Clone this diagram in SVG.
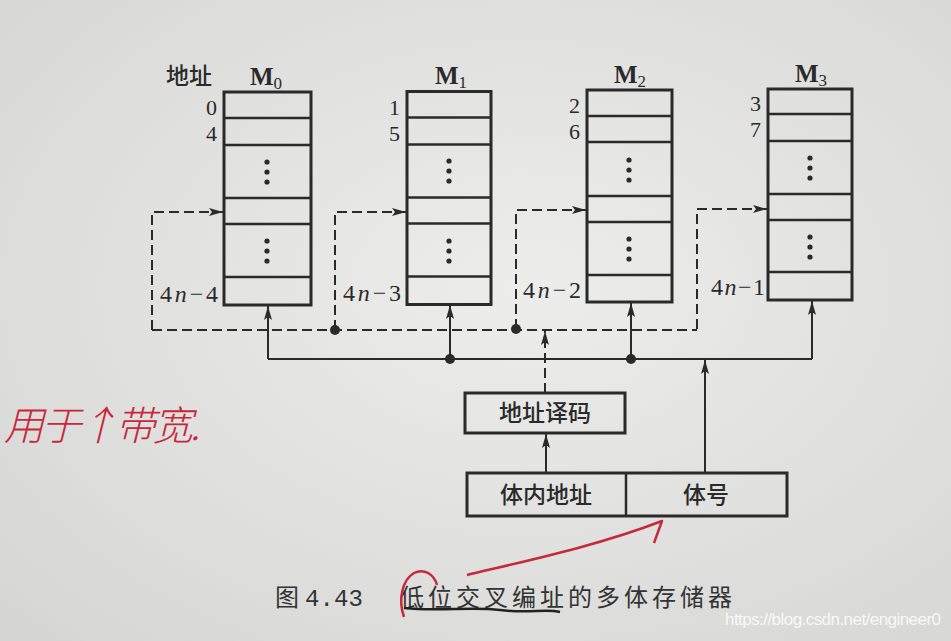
<svg xmlns="http://www.w3.org/2000/svg" width="951" height="641" viewBox="0 0 951 641">
<defs>
<radialGradient id="bg" cx="0.55" cy="0.45" r="0.75">
<stop offset="0" stop-color="#ededeb"/>
<stop offset="1" stop-color="#d6d6d4"/>
</radialGradient>
<marker id="ah" viewBox="0 0 14 8" refX="14" refY="4" markerWidth="14" markerHeight="8" markerUnits="userSpaceOnUse" orient="auto">
<path d="M0,0 L14,4 L0,8 L3,4 Z" fill="#2a2a2a"/>
</marker>
<g id="dots3">
<circle cx="0" cy="0" r="2.6"/>
<circle cx="0" cy="10" r="2.6"/>
<circle cx="0" cy="20" r="2.6"/>
</g>
</defs>
<style>
.box{fill:none;stroke:#2a2a2a;stroke-width:3}
.row{stroke:#2a2a2a;stroke-width:2.5}
.dash{fill:none;stroke:#2a2a2a;stroke-width:2;stroke-dasharray:10 5}
.sol{fill:none;stroke:#2a2a2a;stroke-width:2}
.num{font-family:"Liberation Serif","DejaVu Serif",serif;font-size:22px;fill:#2a2a2a;text-anchor:end}
.big{font-size:24px}
.ml{font-family:"Liberation Serif",serif;font-size:25px;font-weight:bold;fill:#2a2a2a;text-anchor:middle}
.cn{font-family:"Noto Sans CJK SC","Noto Sans",sans-serif;font-size:23px;font-weight:500;fill:#2a2a2a;text-anchor:middle}
.dot{fill:#2a2a2a}
</style>
<rect x="0" y="0" width="951" height="641" fill="url(#bg)"/>

<g id="M0">
<rect class="box" x="224" y="92" width="87" height="213"/>
<line class="row" x1="224" y1="118" x2="311" y2="118"/>
<line class="row" x1="224" y1="145" x2="311" y2="145"/>
<line class="row" x1="224" y1="198" x2="311" y2="198"/>
<line class="row" x1="224" y1="224" x2="311" y2="224"/>
<line class="row" x1="224" y1="277" x2="311" y2="277"/>
<use href="#dots3" x="267" y="162" fill="#2a2a2a"/>
<use href="#dots3" x="267" y="241" fill="#2a2a2a"/>
<text class="ml" x="266" y="85">M<tspan font-size="17" font-weight="normal" dy="4">0</tspan></text>
<text class="num" x="217" y="115">0</text>
<text class="num" x="217" y="141">4</text>
<text class="num big" x="218" y="302" textLength="58">4<tspan font-style="italic">n</tspan>−4</text>
</g>

<g id="M1">
<rect class="box" x="407" y="91.5" width="84" height="213"/>
<line class="row" x1="407" y1="117.5" x2="491" y2="117.5"/>
<line class="row" x1="407" y1="144.5" x2="491" y2="144.5"/>
<line class="row" x1="407" y1="197.5" x2="491" y2="197.5"/>
<line class="row" x1="407" y1="223.5" x2="491" y2="223.5"/>
<line class="row" x1="407" y1="276.5" x2="491" y2="276.5"/>
<use href="#dots3" x="449" y="161" fill="#2a2a2a"/>
<use href="#dots3" x="449" y="241" fill="#2a2a2a"/>
<text class="ml" x="451" y="84">M<tspan font-size="17" font-weight="normal" dy="4">1</tspan></text>
<text class="num" x="400" y="115">1</text>
<text class="num" x="400" y="141">5</text>
<text class="num big" x="401" y="301" textLength="58">4<tspan font-style="italic">n</tspan>−3</text>
</g>

<g id="M2">
<rect class="box" x="587" y="90" width="85" height="212"/>
<line class="row" x1="587" y1="116" x2="672" y2="116"/>
<line class="row" x1="587" y1="142" x2="672" y2="142"/>
<line class="row" x1="587" y1="196" x2="672" y2="196"/>
<line class="row" x1="587" y1="222" x2="672" y2="222"/>
<line class="row" x1="587" y1="275" x2="672" y2="275"/>
<use href="#dots3" x="629" y="160" fill="#2a2a2a"/>
<use href="#dots3" x="629" y="239" fill="#2a2a2a"/>
<text class="ml" x="630" y="83">M<tspan font-size="17" font-weight="normal" dy="4">2</tspan></text>
<text class="num" x="580" y="113">2</text>
<text class="num" x="580" y="139">6</text>
<text class="num big" x="581" y="298" textLength="58">4<tspan font-style="italic">n</tspan>−2</text>
</g>

<g id="M3">
<rect class="box" x="768" y="89" width="84" height="211"/>
<line class="row" x1="768" y1="114" x2="852" y2="114"/>
<line class="row" x1="768" y1="141" x2="852" y2="141"/>
<line class="row" x1="768" y1="194" x2="852" y2="194"/>
<line class="row" x1="768" y1="220" x2="852" y2="220"/>
<line class="row" x1="768" y1="272" x2="852" y2="272"/>
<use href="#dots3" x="810" y="158" fill="#2a2a2a"/>
<use href="#dots3" x="810" y="237" fill="#2a2a2a"/>
<text class="ml" x="811" y="82">M<tspan font-size="17" font-weight="normal" dy="4">3</tspan></text>
<text class="num" x="761" y="111">3</text>
<text class="num" x="761" y="137">7</text>
<text class="num big" x="765" y="295" textLength="54">4<tspan font-style="italic">n</tspan>−1</text>
</g>

<g id="addr-label">
<text class="cn" x="189" y="84" font-weight="bold">地址</text>
</g>

<g id="decoder">
<rect class="box" x="465" y="393" width="160" height="40"/>
<text class="cn" x="545" y="421">地址译码</text>
</g>

<g id="address-register">
<rect class="box" x="467" y="473" width="320" height="43"/>
<line class="row" x1="626" y1="473" x2="626" y2="516"/>
<text class="cn" x="546" y="503">体内地址</text>
<text class="cn" x="706" y="503">体号</text>
</g>

<g id="connectors">
<path class="dash" d="M152,330 H697"/>
<path class="dash" d="M152,330 V212 H223" marker-end="url(#ah)"/>
<path class="dash" d="M335,330 V212 H406" marker-end="url(#ah)"/>
<path class="dash" d="M516,329 V210 H586" marker-end="url(#ah)"/>
<path class="dash" d="M697,329 V209 H767" marker-end="url(#ah)"/>
<path class="dash" d="M545,393 V331" marker-end="url(#ah)"/>
<path class="sol" d="M268,359 H812"/>
<path class="sol" d="M268,359 V306" marker-end="url(#ah)"/>
<path class="sol" d="M450,359 V305" marker-end="url(#ah)"/>
<path class="sol" d="M631,359 V303" marker-end="url(#ah)"/>
<path class="sol" d="M812,359 V301" marker-end="url(#ah)"/>
<path class="sol" d="M705,473 V360" marker-end="url(#ah)"/>
<path class="sol" d="M546,473 V434" marker-end="url(#ah)"/>
<circle class="dot" cx="335" cy="330" r="5"/>
<circle class="dot" cx="516" cy="329" r="5"/>
<circle class="dot" cx="450" cy="359" r="5"/>
<circle class="dot" cx="631" cy="359" r="5"/>
</g>

<g id="caption">
<text x="275" y="606" font-family="'Noto Sans CJK SC',sans-serif" font-size="24" fill="#333">图</text>
<text x="305" y="606" font-family="'Liberation Mono',monospace" font-size="24" fill="#333" textLength="58">4.43</text>
<text x="400" y="606" font-family="'Noto Sans CJK SC',sans-serif" font-size="24" fill="#333" textLength="332">低位交叉编址的多体存储器</text>
</g>

<g id="annotation">
<path d="M404,617 C398,600 402,580 414,573 C424,568 434,574 437,585" fill="none" stroke="#c8283c" stroke-width="2.5"/>
<path d="M467,575 C530,560 600,545 662,521 L654,543" fill="none" stroke="#c8283c" stroke-width="2.5" stroke-linejoin="round"/>
<path d="M404,608 C440,612 470,606 500,610 C530,614 545,608 560,612" fill="none" stroke="#222" stroke-width="2.5"/>
<text x="4" y="440" font-family="'Noto Sans CJK SC',sans-serif" font-size="40" font-weight="300" fill="#c8283c" font-style="italic" textLength="196">用于↑带宽.</text>
</g>

<text x="725" y="625" font-family="'Liberation Sans',sans-serif" font-size="17" fill="#ffffff" fill-opacity="0.85" textLength="216">https://blog.csdn.net/engineer0</text>
</svg>
